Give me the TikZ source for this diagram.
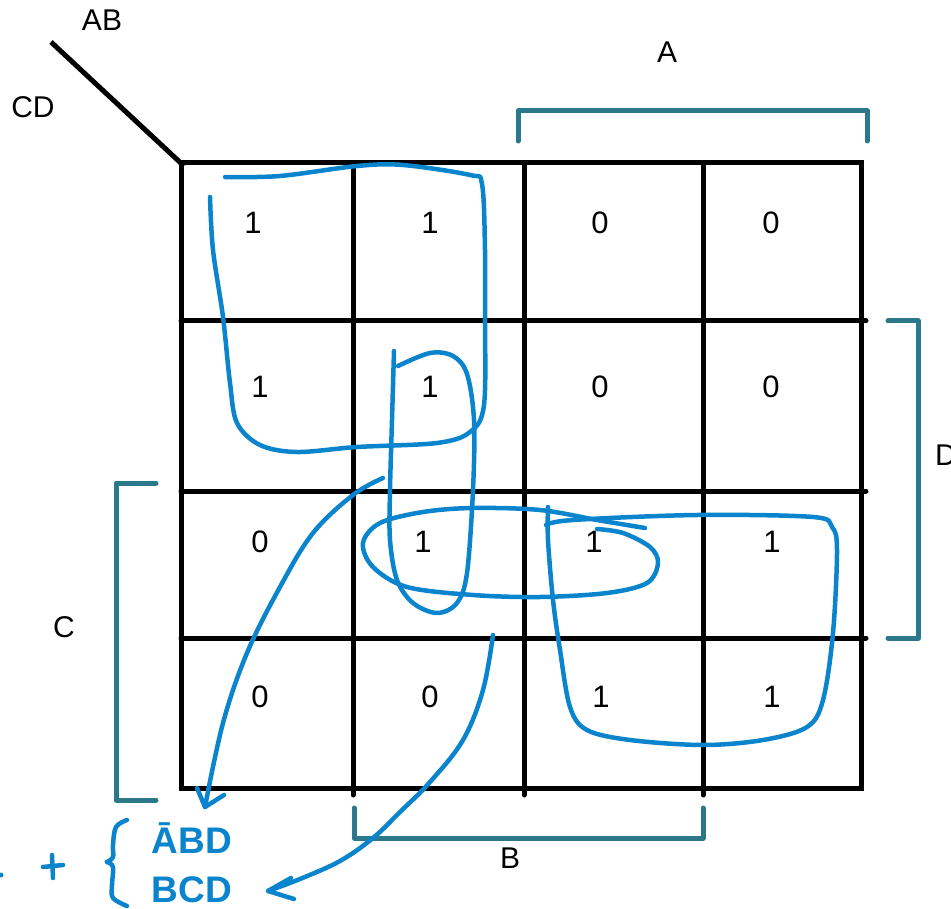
\documentclass[tikz,border=0pt]{standalone}
\usepackage{fontspec}
\setmainfont{Liberation Sans}
\definecolor{inkblue}{RGB}{10,132,204}
\definecolor{teal0}{RGB}{43,120,138}
\begin{document}
\begin{tikzpicture}[x=1pt,y=-1pt,
  gridline/.style={line width=5pt, black, line cap=round},
  brk/.style={line width=5pt, teal0, line cap=round, line join=round},
  ink/.style={line width=4.5pt, inkblue, line cap=round, line join=round},
  lbl/.style={font=\fontsize{30}{34}\selectfont, inner sep=0pt},
  val/.style={font=\fontsize{31}{34}\selectfont, inner sep=0pt},
  hand/.style={font=\fontsize{37}{40}\selectfont\bfseries, text=inkblue, inner sep=0pt, anchor=base}]
\useasboundingbox (0,0) rectangle (951,909);
% corner diagonal and labels
\coordinate (dg1) at (51,42);
\coordinate (dg2) at (184,166);
\draw[line width=5pt] (dg1) -- (dg2);
\node[lbl] (lAB) at (102,20) {AB};
\node[lbl] (lCD) at (33,107) {CD};
% grid
\draw[gridline, line cap=rect] (181,163) rectangle (861,788);
\foreach \x in {353,524,703} \draw[gridline] (\x,163) -- (\x,795);
\foreach \y in {321,491,638} \draw[gridline] (181,\y) -- (866,\y);
% values
\node[val] (c11) at (253,223) {1};
\node[val] (c12) at (430,223) {1};
\node[val] (c13) at (600,223) {0};
\node[val] (c14) at (771,223) {0};
\node[val] (c21) at (260,387) {1};
\node[val] (c22) at (430,387) {1};
\node[val] (c23) at (600,387) {0};
\node[val] (c24) at (771,387) {0};
\node[val] (c31) at (260,542) {0};
\node[val] (c32) at (423,542) {1};
\node[val] (c33) at (594,542) {1};
\node[val] (c34) at (772,542) {1};
\node[val] (c41) at (260,697) {0};
\node[val] (c42) at (430,697) {0};
\node[val] (c43) at (601,697) {1};
\node[val] (c44) at (772,697) {1};
% brackets
\draw[brk] (518,141) -- (518,111) -- (867,111) -- (867,141);
\node[lbl] (lA) at (667,52) {A};
\draw[brk] (888,321) -- (918,321) -- (918,638) -- (888,638);
\node[lbl] (lD) at (946,455) {D};
\draw[brk] (156,483) -- (116,483) -- (116,800) -- (156,800);
\node[lbl] (lC) at (64,627) {C};
\draw[brk] (354,808) -- (354,838) -- (703,838) -- (703,808);
\node[lbl] (lB) at (510,858) {B};
% blue hand-drawn groupings
\draw[ink] plot[smooth, tension=0.55] coordinates {(225,177) (280,176) (357,166) (403,165) (470,175) (482,184) (485,250) (485,317) (484,405) (470,432) (437,443) (357,447) (297,452) (260,445) (237,423) (230,383) (223,317) (213,250) (210,197)};
\draw[ink] plot[smooth, tension=0.55] coordinates {(394,351) (392,420) (390,490) (390,540) (397,580) (413,603) (437,613) (457,603) (467,573) (473,490) (474,420) (467,374) (453,356) (430,353) (398,366)};
\draw[ink] plot[smooth, tension=0.55] coordinates {(645,528) (597,520) (540,510) (473,508) (423,512) (380,523) (363,543) (373,567) (407,587) (473,595) (540,597) (607,593) (647,583) (658,563) (650,547) (623,533) (597,529)};
\draw[ink] plot[smooth, tension=0.55] coordinates {(548,507) (548,540) (553,600) (560,650) (570,707) (587,730) (630,740) (703,745) (763,740) (807,727) (823,700) (833,633) (837,550) (832,527) (813,517) (697,515) (573,520) (546,525)};
% arrows to the terms
\coordinate (a1s) at (383,478);
\coordinate (a1e) at (205,807);
\draw[ink] plot[smooth, tension=0.6] coordinates {(a1s) (353,495) (313,533) (280,587) (247,653) (223,723) (a1e)};
\draw[ink] (197,788) -- (a1e) -- (224,795);
\coordinate (a2s) at (493,635);
\coordinate (a2e) at (268,891);
\draw[ink] plot[smooth, tension=0.6] coordinates {(a2s) (483,690) (463,740) (430,782) (400,812) (373,838) (340,861) (300,879) (a2e)};
\draw[ink] (291,878) -- (a2e) -- (294,899);
% handwritten expression
\draw[ink] plot[smooth, tension=0.6] coordinates {(127,820) (116,827) (113,845) (113,857) (107,862)};
\draw[ink] plot[smooth, tension=0.6] coordinates {(107,862) (113,867) (112,885) (113,898) (127,906)};
\draw[ink] (52,855) -- (53,878);
\draw[ink] (43,867) -- (63,865);
\fill[inkblue] (1,875) circle (2.5);
\node[hand] (t1) at (192,853) {\=ABD};
\node[hand] (t2) at (192,902) {BCD};
\end{tikzpicture}
\end{document}
